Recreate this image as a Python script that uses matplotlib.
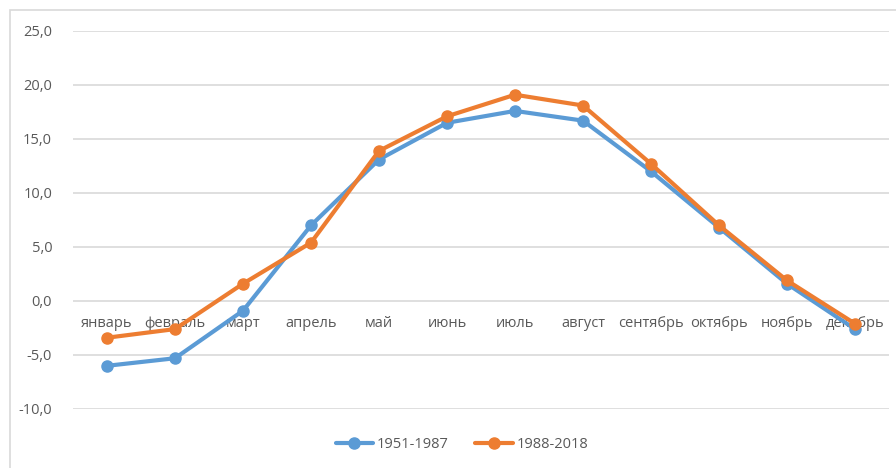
import matplotlib
matplotlib.use("Agg")
import matplotlib.pyplot as plt
from matplotlib.patches import Rectangle
from matplotlib.ticker import FuncFormatter

plt.rcParams["font.family"] = ["Open Sans", "DejaVu Sans"]

MONTHS = ["январь", "февраль", "март", "апрель", "май", "июнь",
          "июль", "август", "сентябрь", "октябрь", "ноябрь", "декабрь"]
T_1951_1987 = [-6.0, -5.3, -0.9, 7.0, 13.1, 16.5, 17.6, 16.7, 12.0, 6.8, 1.6, -2.6]
T_1988_2018 = [-3.4, -2.6, 1.6, 5.4, 13.9, 17.1, 19.1, 18.1, 12.7, 7.0, 1.9, -2.1]
YTICKS = [-10, -5, 0, 5, 10, 15, 20, 25]

BLUE = "#5B9BD5"
ORANGE = "#ED7D31"
GRID = "#D9D9D9"
TEXT = "#595959"

W, H = 896, 468
fig = plt.figure(figsize=(W / 100, H / 100), dpi=100)
ax = fig.add_axes([73 / W, 1 - 409 / H, (889 - 73) / W, (409 - 31) / H])

# chart frame (Excel-style), only top and left edges visible
fig.patches.append(Rectangle((10 / W, -0.1), 1.2, 1 - 10 / H + 0.1,
                             transform=fig.transFigure, fill=False,
                             edgecolor=GRID, lw=1.2))

x = list(range(len(MONTHS)))
ax.plot(x, T_1951_1987, color=BLUE, lw=3, marker="o", ms=8,
        label="1951-1987", zorder=3, solid_capstyle="round")
ax.plot(x, T_1988_2018, color=ORANGE, lw=3, marker="o", ms=8,
        label="1988-2018", zorder=4, solid_capstyle="round")

ax.set_xlim(-0.5, len(MONTHS) - 0.5)
ax.set_ylim(-10, 25)
ax.set_yticks(YTICKS)
ax.yaxis.set_major_formatter(FuncFormatter(lambda v, _: f"{v:.1f}".replace(".", ",")))
ax.tick_params(axis="y", length=0, pad=15, labelsize=10.5, labelcolor=TEXT)
ax.grid(axis="y", color=GRID, lw=1.2)
ax.set_axisbelow(True)

# category labels sit just under the zero line
ax.set_xticks([])
for xi, name in zip(x, MONTHS):
    ax.annotate(name, (xi, 0), xytext=(0, -16.5), textcoords="offset points",
                ha="center", va="center", fontsize=10.5, color=TEXT, zorder=2)

for s in ax.spines.values():
    s.set_visible(False)

fig.legend(loc="center", bbox_to_anchor=(462 / W, 1 - 445 / H), ncol=2,
           frameon=False, fontsize=10.5, labelcolor=TEXT, handlelength=2.6,
           handletextpad=0.25, columnspacing=1.8)

fig.savefig("out.png", dpi=100)
